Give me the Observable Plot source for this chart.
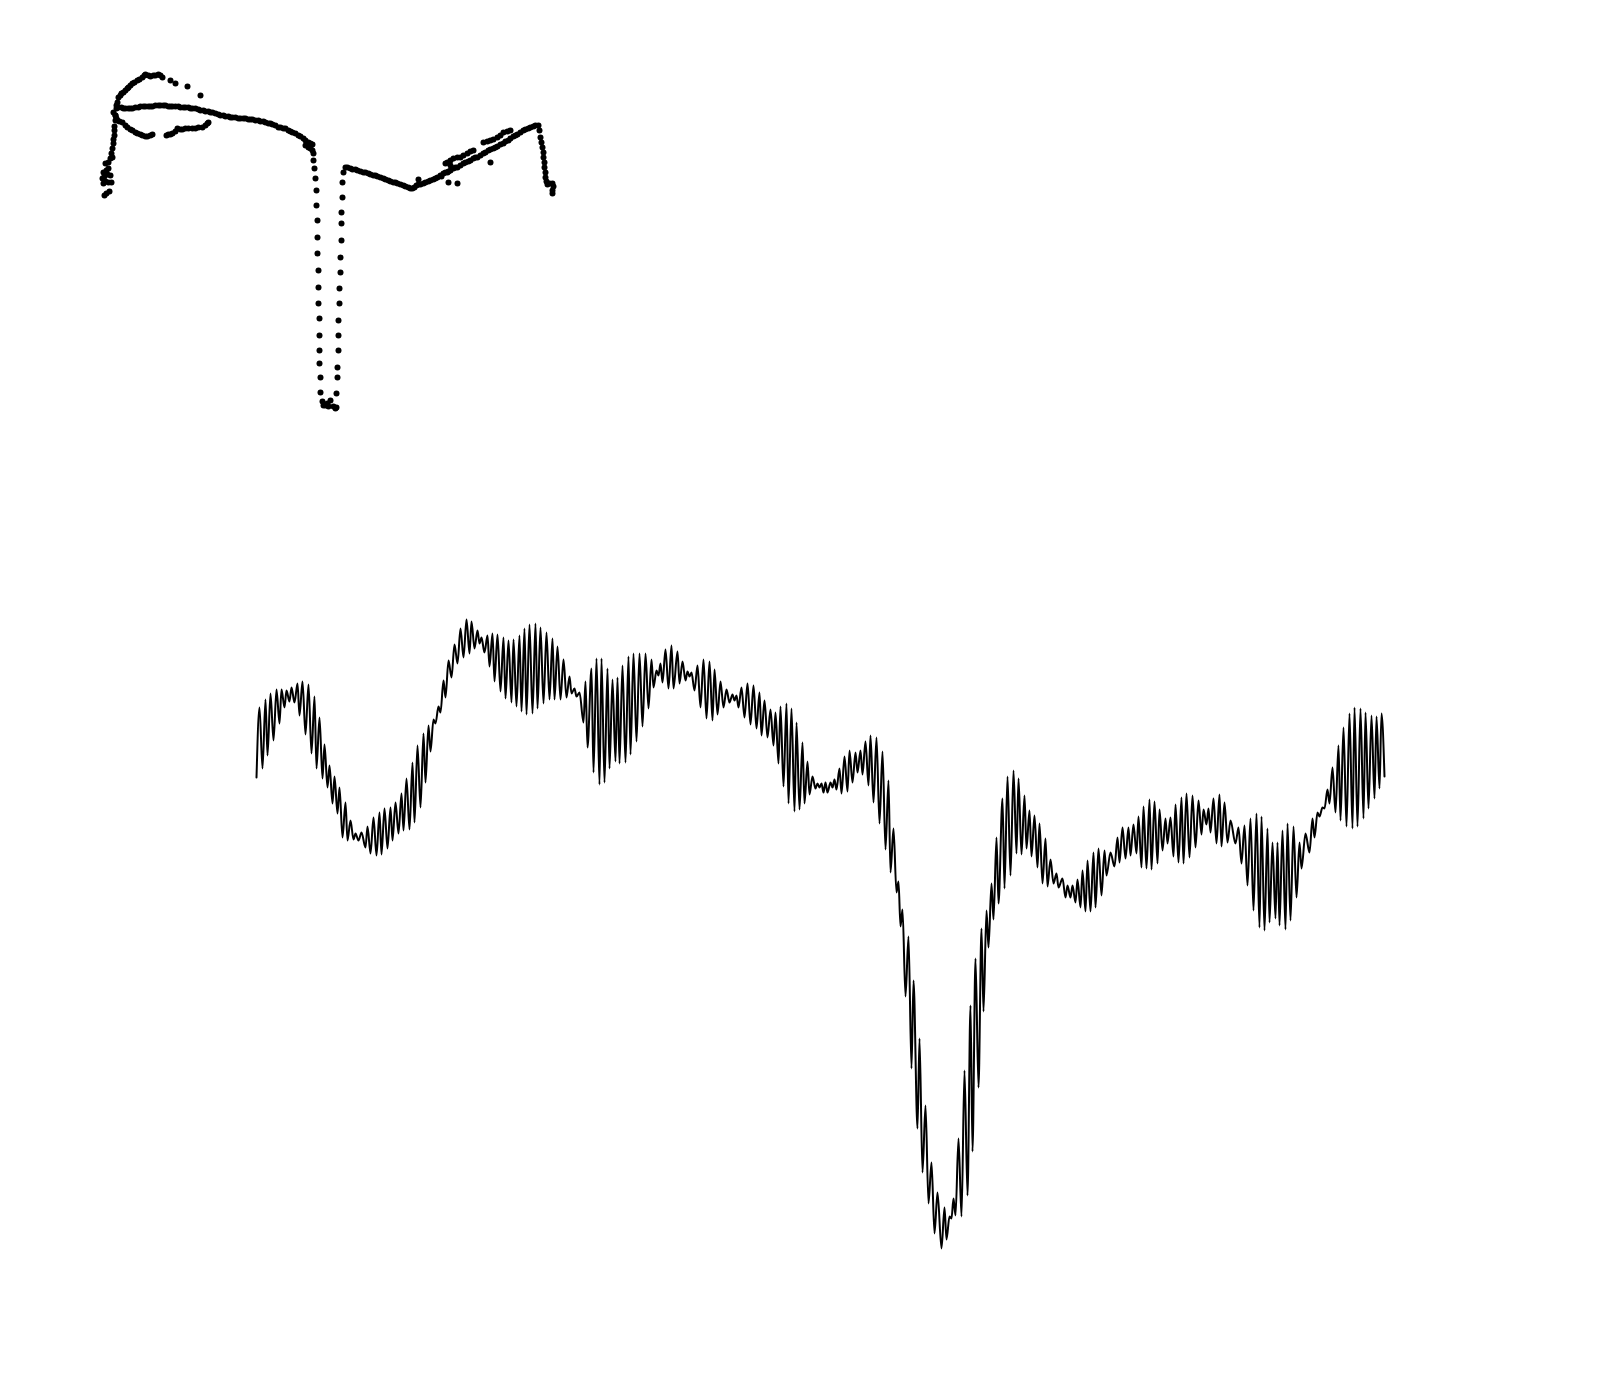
<!DOCTYPE html>
<html>
<head>
<meta charset="utf-8">
<script src="https://cdn.jsdelivr.net/npm/d3@7"></script>
<script src="https://cdn.jsdelivr.net/npm/@observablehq/plot@0.6"></script>
<style>
  html, body { margin: 0; padding: 0; background: #fff; }
  #chart svg { display: block; }
</style>
</head>
<body>
<div id="chart"></div>
<script>
// ---------- Scatter (top panel): values ----------
const scatterX = [
  // left descent
  104,106,109,103,105,108,111,102,104,107,110,103,106,108,105,108,110,112,111,112,113,113,114,114,114,115,
  // upper arc
  115,116,117,118,120,121,123,125,127,128,130,132,134,137,139,142,144,145,148,150,153,155,158,160,162,170,175,187,200,
  // main band
  116,118,121,123,125,128,130,132,135,138,140,143,145,148,150,152,155,158,160,163,165,168,170,172,175,178,180,183,185,188,
  190,192,195,198,200,203,205,208,210,212,215,218,220,223,225,228,230,232,235,238,240,243,245,248,250,252,255,258,260,263,
  265,268,270,272,275,278,280,283,285,288,290,292,295,298,300,303,305,308,310,312,
  // lower loop
  113,115,116,117,119,122,125,127,130,132,135,137,140,142,145,147,150,152,166,168,170,172,175,177,180,182,185,188,192,195,198,202,205,207,208,
  // drop
  305,308,310,312,313,313,314,315,316,316,317,317,317,318,318,318,319,319,319,319,320,320,322,323,325,327,328,330,333,335,
  // return
  336,336,337,337,338,338,338,339,339,340,340,341,341,341,342,342,343,345,
  // descending band
  347,350,352,355,357,360,363,365,368,370,373,375,377,380,383,385,388,390,393,395,397,400,403,405,408,410,412,
  // rising band
  414,416,418,420,423,425,428,430,433,435,437,440,443,445,448,450,453,455,457,460,463,465,468,470,473,475,477,480,483,485,
  488,490,493,495,497,500,503,505,508,510,513,515,517,520,523,525,528,530,533,535,538,
  // final drop
  539,540,541,542,543,543,544,544,545,545,546,547,549,552,553,552,552,
  // secondary band
  445,447,450,453,457,460,463,467,470,473,483,487,490,493,497,500,503,507,510,
  // stray points
  448,457,490,418,447,441,450
];
const scatterY = [
  // left descent
  195,193,191,183,181,182,182,178,176,174,175,172,170,168,163,162,158,157,153,148,143,139,135,130,126,120,
  // upper arc
  115,108,102,97,95,93,92,90,88,87,85,83,82,80,79,77,75,74,75,76,75,75,74,75,77,80,83,86,95,
  // main band
  105,107,107,108,108,108,108,108,107,107,106,106,106,106,106,106,105,105,105,105,105,106,106,106,106,106,107,107,107,107,
  108,108,108,109,110,110,111,111,112,112,113,114,115,115,116,116,117,117,117,118,118,118,118,119,119,119,120,120,121,121,
  122,123,123,124,125,127,127,128,128,130,131,132,133,135,136,138,140,142,143,144,
  // lower loop
  112,115,118,120,121,122,125,127,129,130,132,133,134,135,136,136,135,134,135,134,134,133,131,128,129,129,128,128,128,128,127,127,125,123,122,
  // drop
  145,147,148,150,153,160,168,178,190,205,220,237,253,270,287,303,318,335,350,363,377,392,401,405,405,403,406,400,406,408,
  // return
  407,393,377,367,350,335,320,303,288,272,257,240,223,212,197,182,172,167,
  // descending band
  167,168,169,169,170,171,172,172,173,174,175,175,176,177,178,179,180,181,182,182,183,184,185,186,187,188,188,
  // rising band
  187,185,184,184,183,182,181,180,179,178,177,175,173,172,171,170,168,167,167,165,163,162,161,160,158,157,157,155,153,152,
  150,149,148,147,146,144,143,141,140,138,136,135,134,132,130,129,128,127,126,125,125,
  // final drop
  130,137,142,147,152,157,162,167,172,177,181,184,183,183,186,190,193,
  // secondary band
  163,162,160,158,157,157,155,153,151,150,142,141,140,139,137,135,132,131,130,
  // stray points
  182,183,162,179,172,176,165
];

// ---------- Signal (bottom panel): peaks and troughs ----------
const lineT = [
  256,259,262,265,267,270,273,276,279,281,284,286,289,291,294,297,299,302,305,308,
  311,314,316,319,322,324,327,329,332,334,337,339,342,345,347,350,353,355,358,361,
  365,367,370,373,376,379,381,384,387,390,392,395,398,401,403,406,409,412,414,417,
  420,423,425,428,430,433,435,438,440,443,445,448,451,454,457,460,463,466,469,471,
  474,477,479,481,484,487,489,492,494,497,500,503,505,508,511,513,516,519,521,524,
  526,529,532,535,537,540,543,546,549,552,554,557,560,563,566,569,571,574,576,579,
  583,585,587,591,593,596,599,601,604,607,609,612,615,617,619,622,625,628,630,633,
  636,639,642,645,648,651,653,656,658,660,662,665,668,671,673,677,679,682,685,687,
  689,691,694,697,700,703,706,709,712,714,717,720,723,726,729,732,734,736,738,741,
  744,747,750,753,756,759,761,764,767,770,773,775,778,780,783,786,788,791,794,796,
  799,802,804,807,809,812,815,817,819,821,823,825,827,830,832,834,836,839,841,844,
  847,849,852,855,857,860,862,865,868,870,873,876,879,882,885,888,890,893,896,898,
  900,902,905,908,911,913,917,919,922,925,928,931,934,937,941,944,946,949,951,953,
  955,958,961,964,967,970,972,975,978,981,983,986,988,991,993,996,998,1002,1004,1007,
  1010,1013,1016,1018,1021,1024,1026,1029,1031,1034,1037,1039,1042,1045,1047,1050,1053,1056,1058,1062,
  1065,1067,1070,1072,1075,1077,1080,1082,1085,1087,1090,1093,1095,1098,1101,1104,1106,1110,1114,1117,
  1119,1122,1125,1128,1130,1133,1136,1138,1141,1143,1146,1149,1151,1154,1157,1159,1162,1165,1167,1170,
  1173,1175,1178,1181,1183,1186,1189,1192,1195,1198,1201,1203,1206,1208,1210,1213,1216,1219,1221,1224,
  1227,1230,1235,1238,1241,1244,1247,1250,1253,1256,1259,1261,1264,1267,1269,1272,1275,1277,1279,1282,
  1285,1287,1290,1293,1296,1299,1301,1305,1309,1312,1314,1317,1319,1322,1324,1327,1329,1332,1335,1338,
  1340,1343,1346,1349,1352,1354,1357,1360,1363,1365,1368,1371,1374,1376,1379,1381,1384
];
const lineDepth = [
  777,707,768,699,755,693,740,689,723,689,707,690,701,687,702,683,715,681,734,684,
  753,696,768,717,778,744,787,765,803,776,813,787,837,802,840,820,839,833,840,832,
  847,826,853,817,855,812,854,808,848,807,840,802,833,793,830,778,829,762,822,745,
  807,733,782,725,751,719,723,706,712,680,697,660,677,644,663,628,657,619,653,621,
  648,630,643,637,652,635,666,633,681,634,691,637,698,640,702,639,706,635,711,628,
  714,624,713,623,708,627,703,632,699,638,699,646,699,659,697,676,693,688,696,692,
  722,681,747,668,772,658,784,658,782,668,768,679,761,677,763,665,762,656,754,653,
  741,653,726,653,708,659,687,670,675,663,682,649,688,645,688,651,683,661,680,671,
  676,672,690,665,707,659,718,661,720,669,714,681,707,689,702,694,700,695,707,687,
  717,683,724,685,728,692,735,700,737,709,745,712,763,706,786,703,803,708,811,722,
  809,742,803,761,794,776,788,783,787,783,792,782,792,782,787,779,789,768,793,756,
  791,750,782,752,772,750,774,741,785,735,802,737,823,751,849,780,872,828,892,881,
  926,909,996,936,1068,980,1128,1038,1172,1105,1203,1162,1233,1192,1248,1207,1239,1216,1218,1198,
  1215,1138,1216,1070,1195,1005,1151,958,1087,928,1011,910,947,883,919,837,903,798,888,776,
  875,770,853,778,854,795,848,810,856,815,867,823,883,838,886,859,883,873,887,878,
  897,885,897,885,902,879,907,870,911,860,911,852,907,848,895,850,875,852,866,837,
  862,827,858,827,855,824,853,816,867,806,868,799,869,801,863,809,850,818,843,817,
  856,804,862,797,863,793,857,795,847,800,834,809,824,808,832,798,843,794,846,802,
  842,820,843,827,863,825,885,818,910,813,927,816,930,828,922,842,918,842,925,830,
  929,823,920,826,897,842,868,833,852,818,837,812,816,807,808,789,803,767,812,745,
  820,727,826,713,828,707,826,708,818,712,808,715,798,716,788,713,776
];

const points = scatterX.map((x, i) => ({x, y: scatterY[i]}));
const signal = lineT.map((t, i) => ({t, depth: lineDepth[i]}));

const scatterPlot = Plot.plot({
  width: 1600,
  height: 460,
  marginLeft: 100,
  marginRight: 1040,
  marginTop: 60,
  marginBottom: 40,
  x: {domain: [100, 560], axis: null},
  y: {domain: [60, 420], reverse: true, axis: null},
  marks: [
    Plot.dot(points, {x: "x", y: "y", r: 3, fill: "black", stroke: "none"})
  ]
});

const linePlot = Plot.plot({
  width: 1600,
  height: 920,
  marginLeft: 256,
  marginRight: 216,
  marginTop: 140,
  marginBottom: 120,
  x: {domain: [256, 1384], axis: null},
  y: {domain: [600, 1260], reverse: true, axis: null},
  marks: [
    Plot.line(signal, {x: "t", y: "depth", stroke: "black", strokeWidth: 2, curve: "monotone-x"})
  ]
});

const root = document.getElementById("chart");
root.append(scatterPlot, linePlot);
</script>
</body>
</html>
